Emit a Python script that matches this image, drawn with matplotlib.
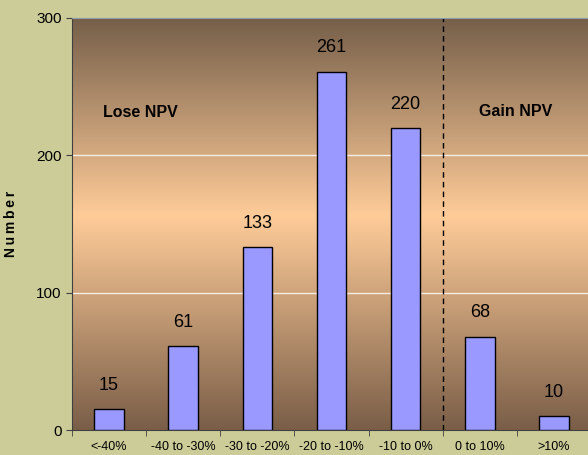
import numpy as np
import matplotlib
matplotlib.use("Agg")
import matplotlib.pyplot as plt
from matplotlib import font_manager
from matplotlib.colors import LinearSegmentedColormap

# data
categories = ["<-40%", "-40 to -30%", "-30 to -20%", "-20 to -10%",
              "-10 to 0%", "0 to 10%", ">10%"]
counts = [15, 61, 133, 261, 220, 68, 10]
y_ticks = [0, 100, 200, 300]

names = {f.name for f in font_manager.fontManager.ttflist}
narrow = "Liberation Sans Narrow" if "Liberation Sans Narrow" in names else "Liberation Sans"
plt.rcParams['font.family'] = ['Liberation Sans', 'DejaVu Sans']

fig = plt.figure(figsize=(5.88, 4.55), dpi=100, facecolor="#CCCC99")
ax = fig.add_axes([72/588, 25/455, 516/588, 412/455])

# gradient background: dark brown -> peach -> dark brown
cmap = LinearSegmentedColormap.from_list(
    "bg", [(0.0, "#7A5E48"), (0.52, "#FFCC99"), (1.0, "#765F4A")])
grad = np.linspace(1, 0, 256).reshape(-1, 1)
ax.imshow(grad, cmap=cmap, extent=[0, 1, 0, 1], transform=ax.transAxes,
          aspect="auto", zorder=0, interpolation="bicubic")

x = np.arange(len(categories))
ax.bar(x, counts, width=0.4, color="#9999FF", edgecolor="black",
       linewidth=1, zorder=3)

for xi, c in zip(x, counts):
    ax.annotate(str(c), (xi, c), xytext=(0, 11), textcoords="offset points",
                ha="center", va="bottom", fontsize=13, zorder=4)

for yv in [100, 200]:
    ax.axhline(yv, color="white", linewidth=1, alpha=0.8, zorder=1)

ax.axvline(4.5, color="black", linestyle=(0, (4, 3)), linewidth=1, zorder=2)

ax.text(0.42, 231, "Lose NPV", ha="center", va="center",
        fontsize=11.5, fontweight="bold", zorder=4)
ax.text(5.49, 232, "Gain NPV", ha="center", va="center",
        fontsize=11.5, fontweight="bold", zorder=4)

ax.set_xlim(-0.5, 6.46)
ax.set_ylim(0, 300)
ax.set_yticks(y_ticks)
ax.tick_params(axis="y", labelsize=11, length=4, direction="out",
               color="#404040")
ax.set_xticks(x)
ax.set_xticklabels(categories, fontsize=9, family=narrow)
ax.tick_params(axis="x", which="major", length=0, pad=8)
ax.set_xticks(np.arange(-0.5, 6.5, 1), minor=True)
ax.tick_params(axis="x", which="minor", length=4, direction="out",
               color="#404040")

ax.set_ylabel("\u2009".join("Number"), fontsize=10, fontweight="bold")
ax.yaxis.set_label_coords(-0.105, 0.5)

ax.spines["right"].set_visible(False)
ax.spines["top"].set_color("#8C9AA8")
ax.spines["left"].set_color("#404040")
ax.spines["bottom"].set_color("#404040")

fig.savefig("out.png", dpi=100, facecolor=fig.get_facecolor())
